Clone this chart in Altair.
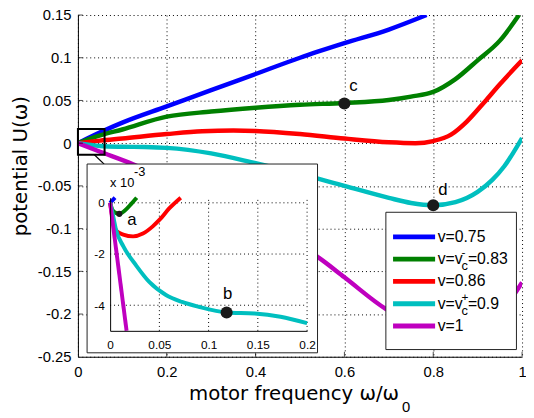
import altair as alt
import pandas as pd

# ---------------- data ----------------
series = ["v=0.75", "v=0.83", "v=0.86", "v=0.9", "v=1"]
colors = ["#0000FF", "#008000", "#FF0000", "#00BFBF", "#BF00BF"]

# main panel curves (omega/omega0, U)
blue_x = [0, 0.06, 0.1, 0.2, 0.3, 0.4, 0.5, 0.6, 0.7, 0.785]
blue_y = [0, 0.015, 0.024, 0.043, 0.062, 0.081, 0.1, 0.117, 0.133, 0.15]
green_x = [0, 0.05, 0.1, 0.2, 0.3, 0.4, 0.5, 0.6, 0.7, 0.75, 0.8, 0.85, 0.9, 0.95, 0.993]
green_y = [0, 0.009, 0.016, 0.031, 0.037, 0.0415, 0.045, 0.047, 0.0505, 0.0545, 0.06, 0.075, 0.097, 0.12, 0.15]
red_x = [0, 0.05, 0.1, 0.2, 0.28, 0.35, 0.4, 0.5, 0.6, 0.7, 0.76, 0.8, 0.84, 0.875, 0.915, 0.95, 1.0]
red_y = [0, 0.003, 0.0055, 0.0107, 0.014, 0.0148, 0.0143, 0.0107, 0.0054, 0.001, 0.0, 0.0025, 0.01, 0.025, 0.048, 0.069, 0.097]
cyan_x = [0, 0.05, 0.1, 0.15, 0.2, 0.3, 0.4, 0.5, 0.6, 0.7, 0.75, 0.8, 0.85, 0.9, 0.933, 0.96, 1.0]
cyan_y = [0, -0.0033, -0.0042, -0.0045, -0.0055, -0.012, -0.0235, -0.036, -0.05, -0.064, -0.07, -0.0726, -0.069, -0.057, -0.043, -0.027, 0.006]
mag_x = [0, 0.05, 0.124, 0.2, 0.3, 0.4, 0.5, 0.542, 0.6, 0.693, 0.75, 0.8, 0.87, 0.9, 0.95, 1.0]
mag_y = [0, -0.01, -0.0246, -0.043, -0.067, -0.093, -0.12, -0.134, -0.157, -0.194, -0.21, -0.219, -0.223, -0.219, -0.2, -0.163]

# inset curves (omega/omega0, U in units of 1e-3)
ib_x = [0, 0.005]
ib_y = [0, 0.2]
ig_x = [0, 0.002, 0.005, 0.0093, 0.015, 0.0217, 0.027]
ig_y = [0, -0.25, -0.38, -0.43, -0.3, -0.03, 0.2]
ir_x = [0, 0.0033, 0.0067, 0.0133, 0.0233, 0.0333, 0.0433, 0.05, 0.06, 0.0717]
ir_y = [0, -0.79, -1.11, -1.24, -1.31, -1.2, -0.92, -0.67, -0.22, 0.2]
ic_x = [0, 0.003, 0.006, 0.0133, 0.0267, 0.04, 0.0567, 0.073, 0.09, 0.1183, 0.1467, 0.173, 0.2]
ic_y = [0, -0.5, -1.05, -1.69, -2.46, -3.1, -3.6, -3.87, -4.06, -4.28, -4.32, -4.45, -4.7]
im_x = [0, 0.0167]
im_y = [0, -5.0]

# marked points
main_pt_x = [0.6, 0.8]
main_pt_y = [0.0465, -0.0726]
main_pt_lab = ["c", "d"]
inset_pt_x = [0.0093, 0.1183]
inset_pt_y = [-0.43, -4.28]
inset_pt_lab = ["a", "b"]

# zoom box and connector (main coordinates)
zoom_box = [0.0, 0.06, -0.0135, 0.0165]
connector = [0.037, -0.0135, 0.059, -0.0246]

# axes
x_dom = [0, 1]
y_dom = [-0.25, 0.15]
x_ticks = [0, 0.2, 0.4, 0.6, 0.8, 1.0]
y_ticks = [-0.25, -0.2, -0.15, -0.1, -0.05, 0, 0.05, 0.1, 0.15]
ix_dom = [0, 0.2]
iy_dom = [-5, 0.2]
ix_ticks = [0, 0.05, 0.1, 0.15, 0.2]
iy_ticks = [-4, -2, 0]

# legend text pieces
leg_prefix = ["v=0.75", "v=v", "v=0.86", "v=v", "v=1"]
leg_sub = ["", "c", "", "c", ""]
leg_sup = ["", "-", "", "+", ""]
leg_suffix = ["", "=0.83", "", "=0.9", ""]

# ---------------- layout ----------------
W, H = 451, 347
MINUS = "replace(datum.label, '\u2212', '-')"
LF = "Liberation Sans"


def curves(xs_list, ys_list):
    rows = []
    for name, xs, ys in zip(series, xs_list, ys_list):
        for i, (a, b) in enumerate(zip(xs, ys)):
            rows.append({"series": name, "x": a, "y": b, "i": i})
    return pd.DataFrame(rows)


color = alt.Color("series:N", scale=alt.Scale(domain=series, range=colors), legend=None)

# ---- main panel ----
mX = alt.X("x:Q", scale=alt.Scale(domain=x_dom, nice=False, zero=False),
           axis=alt.Axis(values=x_ticks, format="~g", labelExpr=MINUS, grid=True,
                         gridDash=[1, 3], gridColor="#000", ticks=False,
                         domainColor="#000", labelFont=LF, labelFontSize=15,
                         labelColor="#000", labelPadding=8, labelFlush=False,
                         labelOverlap=False, orient="bottom",
                         title="motor frequency \u03c9/\u03c9", titleFont="DejaVu Sans",
                         titleFontSize=20, titleFontWeight="normal", titleColor="#000",
                         titleX=219, titleY=43, titleAlign="center",
                         titleBaseline="alphabetic"))
mY = alt.Y("y:Q", scale=alt.Scale(domain=y_dom, nice=False, zero=False),
           axis=alt.Axis(values=y_ticks, format="~g", labelExpr=MINUS, grid=True,
                         gridDash=[1, 3], gridColor="#000", ticks=False,
                         domainColor="#000", labelFont=LF, labelFontSize=15,
                         labelColor="#000", labelPadding=7, labelFlush=False,
                         labelOverlap=False, orient="left",
                         title="potential U(\u03c9)", titleFont="DejaVu Sans",
                         titleFontSize=20, titleFontWeight="normal", titleColor="#000",
                         titleX=-52, titleY=153, titleAngle=270, titleAlign="center",
                         titleBaseline="alphabetic"))

main_df = curves([blue_x, green_x, red_x, cyan_x, mag_x], [blue_y, green_y, red_y, cyan_y, mag_y])
main_lines = alt.Chart(main_df).mark_line(strokeWidth=4.5, clip=True, interpolate="monotone").encode(
    x=mX, y=mY, color=color, order="i:Q")

box_df = pd.DataFrame([{"x": zoom_box[0], "x2": zoom_box[1], "y": zoom_box[2], "y2": zoom_box[3]}])
box = alt.Chart(box_df).mark_rect(fillOpacity=0, stroke="#000", strokeWidth=2).encode(
    x=mX, x2="x2:Q", y=mY, y2="y2:Q")
con_df = pd.DataFrame([{"x": connector[0], "y": connector[1], "x2": connector[2], "y2": connector[3]}])
con = alt.Chart(con_df).mark_rule(stroke="#000", strokeWidth=1.2).encode(
    x=mX, x2="x2:Q", y=mY, y2="y2:Q")

mpt_df = pd.DataFrame({"x": main_pt_x, "y": main_pt_y, "lab": main_pt_lab})
mpts = alt.Chart(mpt_df).mark_circle(size=150, color="#1a1a1a", opacity=1).encode(x=mX, y=mY)
main_text = []
for lab, dx, dy in [("c", 5, -13), ("d", 5, -10)]:
    main_text.append(alt.Chart(mpt_df[mpt_df.lab == lab]).mark_text(
        align="left", baseline="alphabetic", dx=dx, dy=dy, font=LF, fontSize=17, color="#000"
    ).encode(x=mX, y=mY, text="lab:N"))

xt_df = pd.DataFrame({"x": x_ticks[1:]})
xticks = alt.Chart(xt_df).mark_tick(orient="vertical", size=5, thickness=1, color="#000").encode(
    x=mX, y=alt.value(H - 2.5))
yt_df = pd.DataFrame({"y": y_ticks[1:]})
yticks = alt.Chart(yt_df).mark_tick(orient="horizontal", size=5, thickness=1, color="#000").encode(
    y=mY, x=alt.value(2.5))

sub0 = alt.Chart(pd.DataFrame({"t": ["0"]})).mark_text(
    align="left", baseline="alphabetic", font=LF, fontSize=15, color="#000").encode(
    x=alt.value(329), y=alt.value(403), text="t:N")

main = alt.layer(main_lines, box, con, mpts, *main_text, xticks, yticks, sub0)

# ---- inset ----
iX = alt.X("x:Q", scale=alt.Scale(domain=ix_dom, range=[32.7, 232.7], nice=False, zero=False),
           axis=alt.Axis(values=ix_ticks, format="~g", labelExpr=MINUS, grid=False, ticks=False,
                         domainColor="#000", labelFont=LF, labelFontSize=12, labelColor="#000",
                         labelPadding=9, labelFlush=False, labelOverlap=False, orient="bottom",
                         offset=-(H - 320.7), zindex=1, title=None))
iY = alt.Y("y:Q", scale=alt.Scale(domain=iy_dom, range=[320.7, 185.5], nice=False, zero=False),
           axis=alt.Axis(values=iy_ticks, format="~g", labelExpr=MINUS, grid=False, ticks=False,
                         domainColor="#000", labelFont=LF, labelFontSize=12, labelColor="#000",
                         labelPadding=6, labelFlush=False, labelOverlap=False, orient="left",
                         offset=-32.7, zindex=1, title=None))

one = pd.DataFrame({"k": [0]})
iframe = alt.Chart(one).mark_rect(fill="#fff", stroke="#222", strokeWidth=1).encode(
    x=alt.value(9.3), x2=alt.value(243.3), y=alt.value(151.3), y2=alt.value(343))

igx = alt.Chart(pd.DataFrame({"x": ix_ticks[1:], "y": iy_dom[0], "y2": iy_dom[1]})).mark_rule(
    strokeDash=[1, 3], color="#000", strokeWidth=1).encode(x=iX, y=iY, y2="y2:Q")
igy = alt.Chart(pd.DataFrame({"y": iy_ticks, "x": ix_dom[0], "x2": ix_dom[1]})).mark_rule(
    strokeDash=[1, 3], color="#000", strokeWidth=1).encode(y=iY, x=iX, x2="x2:Q")

inset_df = curves([ib_x, ig_x, ir_x, ic_x, im_x], [ib_y, ig_y, ir_y, ic_y, im_y])
ilines = alt.Chart(inset_df).mark_line(strokeWidth=4, interpolate="monotone").encode(
    x=iX, y=iY, color=color, order="i:Q")

ipt_df = pd.DataFrame({"x": inset_pt_x, "y": inset_pt_y, "lab": inset_pt_lab})
ipa = alt.Chart(ipt_df[ipt_df.lab == "a"]).mark_circle(size=40, color="#1a1a1a", opacity=1).encode(x=iX, y=iY)
ipb = alt.Chart(ipt_df[ipt_df.lab == "b"]).mark_circle(size=150, color="#1a1a1a", opacity=1).encode(x=iX, y=iY)
ita = alt.Chart(ipt_df[ipt_df.lab == "a"]).mark_text(
    align="left", baseline="alphabetic", dx=8, dy=11, font=LF, fontSize=17, color="#000").encode(
    x=iX, y=iY, text="lab:N")
itb = alt.Chart(ipt_df[ipt_df.lab == "b"]).mark_text(
    align="center", baseline="alphabetic", dx=1, dy=-14, font=LF, fontSize=17, color="#000").encode(
    x=iX, y=iY, text="lab:N")

exp_df = pd.DataFrame({"t": ["x 10"], "e": ["-3"]})
exp1 = alt.Chart(exp_df).mark_text(align="left", baseline="alphabetic", font=LF, fontSize=13,
                                   color="#000").encode(x=alt.value(32.7), y=alt.value(175), text="t:N")
exp2 = alt.Chart(exp_df).mark_text(align="left", baseline="alphabetic", font=LF, fontSize=13,
                                   color="#000").encode(x=alt.value(57), y=alt.value(163), text="e:N")

inset = alt.layer(iframe, igx, igy, ilines, ipa, ipb, ita, itb, exp1, exp2)

# ---- legend ----
leg_df = pd.DataFrame({"series": series, "pre": leg_prefix, "sub": leg_sub,
                       "sup": leg_sup, "suf": leg_suffix})
lY = alt.Y("series:N", scale=alt.Scale(domain=series, range=[214, 327], padding=0), axis=None)
lframe = alt.Chart(one).mark_rect(fill="#fff", stroke="#222", strokeWidth=1).encode(
    x=alt.value(312.7), x2=alt.value(445.3), y=alt.value(200.3), y2=alt.value(339.7))
lrule = alt.Chart(leg_df).mark_rule(strokeWidth=5).encode(
    x=alt.value(320), x2=alt.value(362.7), y=lY, color=color)
ltxt = alt.Chart(leg_df).mark_text(align="left", baseline="middle", font=LF, fontSize=16,
                                   color="#000").encode(x=alt.value(365.3), y=lY, text="pre:N")
lsub = alt.Chart(leg_df).mark_text(align="left", baseline="alphabetic", dy=11, font=LF, fontSize=13,
                                   color="#000").encode(x=alt.value(389.5), y=lY, text="sub:N")
lsup = alt.Chart(leg_df).mark_text(align="left", baseline="middle", dy=-7, font=LF, fontSize=12,
                                   color="#000").encode(x=alt.value(389.5), y=lY, text="sup:N")
lsuf = alt.Chart(leg_df).mark_text(align="left", baseline="middle", font=LF, fontSize=16,
                                   color="#000").encode(x=alt.value(396), y=lY, text="suf:N")
legend = alt.layer(lframe, lrule, ltxt, lsub, lsup, lsuf)

chart = alt.layer(main, inset, legend).resolve_scale(
    x="independent", y="independent"
).properties(
    width=W, height=H, autosize="none",
    padding={"left": 71, "top": 4, "right": 4, "bottom": 55},
    background="#ffffff",
).configure_view(strokeOpacity=0)

chart.save("out.html", embed_options={"renderer": "svg", "actions": False})
